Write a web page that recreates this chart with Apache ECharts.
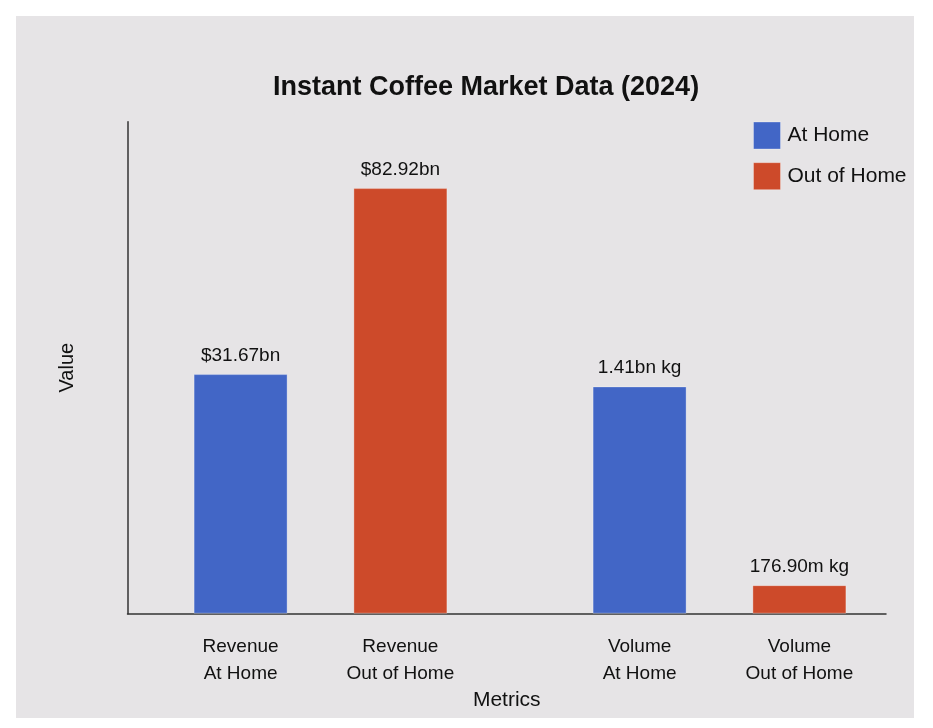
<!DOCTYPE html>
<html>
<head>
<meta charset="utf-8">
<title>Instant Coffee Market Data (2024)</title>
<script src="https://cdn.jsdelivr.net/npm/echarts@6/dist/echarts.min.js"></script>
<style>
    html, body { margin: 0; padding: 0; background: #fff; }
    #panel { position: absolute; left: 16px; top: 16px; width: 898px; height: 702px; background: #e6e4e6; }
    #chart { position: absolute; left: 0; top: 0; width: 933px; height: 728px; }
</style>
</head>
<body>
<div id="panel"></div>
<div id="chart"></div>
<script>
'use strict';

// groups on the hidden band axis
const groups = ['Revenue', 'Volume'];
const seriesNames = ['At Home', 'Out of Home'];

// bar heights (share of the plot height, 0-100)
const atHome = [48.7, 46.2];
const outOfHome = [86.5, 5.8];

// texts printed above the bars
const atHomeValueLabels = ['$31.67bn', '1.41bn kg'];
const outOfHomeValueLabels = ['$82.92bn', '176.90m kg'];

// texts printed under the bars
const atHomeAxisLabels = ['Revenue\nAt Home', 'Volume\nAt Home'];
const outOfHomeAxisLabels = ['Revenue\nOut of Home', 'Volume\nOut of Home'];

const colors = ['#4266c6', '#cd4a2a'];
const font = '"Liberation Sans", Arial, Helvetica, sans-serif';

const chart = echarts.init(document.getElementById('chart'), null, {renderer: 'canvas'});

function labelSeries(name, stack, texts) {
    return {
        name: name,
        type: 'bar',
        stack: stack,
        xAxisIndex: 0,
        yAxisIndex: 0,
        silent: true,
        barWidth: 94,
        barGap: '70%',
        data: groups.map(() => 0),
        itemStyle: {color: 'transparent'},
        label: {
            show: true,
            position: 'bottom',
            distance: 20,
            fontFamily: font,
            fontSize: 19,
            lineHeight: 27,
            color: '#111',
            formatter: (p) => texts[p.dataIndex],
        },
    };
}

function valueSeries(name, stack, values, texts, color) {
    return {
        name: name,
        type: 'bar',
        stack: stack,
        xAxisIndex: 0,
        yAxisIndex: 0,
        barWidth: 94,
        barGap: '70%',
        data: values,
        itemStyle: {color: color, borderColor: 'rgba(255,255,255,0.3)', borderWidth: 1},
        label: {
            show: true,
            position: 'top',
            distance: 9,
            fontFamily: font,
            fontSize: 19,
            color: '#111',
            formatter: (p) => texts[p.dataIndex],
        },
    };
}

chart.setOption({
    backgroundColor: 'transparent',
    animation: false,
    color: colors,
    textStyle: {fontFamily: font},
    title: {
        text: 'Instant Coffee Market Data (2024)',
        left: 268,
        top: 69,
        textStyle: {fontFamily: font, fontSize: 27, fontWeight: 'bold', color: '#111'},
    },
    legend: {
        data: seriesNames,
        orient: 'vertical',
        left: 753,
        top: 121.5,
        padding: 0,
        itemWidth: 27,
        itemHeight: 27,
        itemGap: 12.7,
        icon: 'rect',
        selectedMode: false,
        itemStyle: {borderColor: 'rgba(255,255,255,0.3)', borderWidth: 1},
        textStyle: {fontFamily: font, fontSize: 21, color: '#111', padding: [0, 0, 0, 2]},
    },
    grid: [
        // bars
        {left: 121, top: 121.7, width: 798, height: 492},
        // visible axes
        {left: 127.5, top: 121.7, width: 758.5, height: 492},
    ],
    xAxis: [
        {type: 'category', gridIndex: 0, data: groups, show: false},
        {
            type: 'category', gridIndex: 1, data: groups,
            name: 'Metrics', nameLocation: 'middle', nameGap: 76,
            nameTextStyle: {fontFamily: font, fontSize: 21, color: '#111'},
            axisLine: {show: true, lineStyle: {color: '#333', width: 1.5}},
            axisTick: {show: false},
            axisLabel: {show: false},
            splitLine: {show: false},
        },
    ],
    yAxis: [
        {type: 'value', gridIndex: 0, min: 0, max: 100, show: false},
        {
            type: 'value', gridIndex: 1, min: 0, max: 100,
            name: 'Value', nameLocation: 'middle', nameGap: 50,
            nameTextStyle: {fontFamily: font, fontSize: 20, color: '#111'},
            axisLine: {show: true, lineStyle: {color: '#333', width: 1.5}},
            axisTick: {show: false},
            axisLabel: {show: false},
            splitLine: {show: false},
        },
    ],
    series: [
        labelSeries('home-label', 'home', atHomeAxisLabels),
        valueSeries(seriesNames[0], 'home', atHome, atHomeValueLabels, colors[0]),
        labelSeries('out-label', 'out', outOfHomeAxisLabels),
        valueSeries(seriesNames[1], 'out', outOfHome, outOfHomeValueLabels, colors[1]),
    ],
});
</script>
</body>
</html>
